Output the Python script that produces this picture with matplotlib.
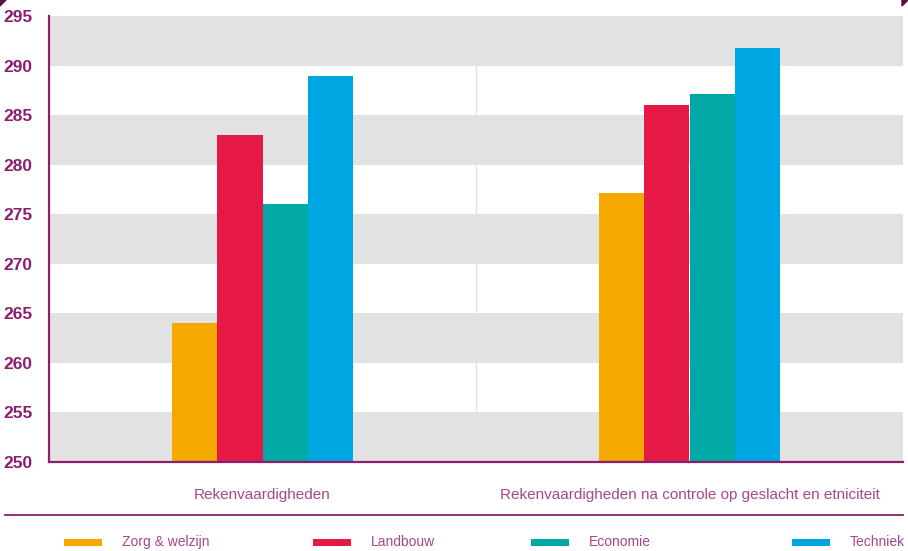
import matplotlib
matplotlib.use("Agg")
import matplotlib.pyplot as plt
from matplotlib.patches import Rectangle
from matplotlib.lines import Line2D
import numpy as np

categories = ["Rekenvaardigheden", "Rekenvaardigheden na controle op geslacht en etniciteit"]
series = ["Zorg & welzijn", "Landbouw", "Economie", "Techniek"]
values = {
    "Zorg & welzijn": [264.0, 277.1],
    "Landbouw": [283.0, 286.0],
    "Economie": [276.0, 287.1],
    "Techniek": [288.9, 291.8],
}
colors = ["#F5A800", "#E61946", "#00A9A6", "#00A6E2"]
yticks = [250, 255, 260, 265, 270, 275, 280, 285, 290, 295]

purple = "#8C1D6F"
label_purple = "#A8468A"

plt.rcParams["font.family"] = ["Liberation Sans", "DejaVu Sans"]

fig = plt.figure(figsize=(9.08, 5.51), dpi=100)
ax = fig.add_axes([49 / 908, 89 / 551, 854 / 908, 446 / 551])

# alternating grey bands
for k, lo in enumerate(yticks[:-1]):
    if k % 2 == 0:
        ax.axhspan(lo, lo + 5, color="#E2E2E2", zorder=0, lw=0)
ax.axvline(0.5, color="#E2E2E2", lw=1, zorder=0.5)

x = np.arange(len(categories))
w = 0.106
offset = -(len(series) - 1) * w / 2
for k, name in enumerate(series):
    ax.bar(x + offset, np.array(values[name]) - 250, bottom=250, width=w,
           color=colors[k], zorder=2, linewidth=0)
    offset += w

ax.set_xlim(-0.5, 1.5)
ax.set_ylim(250, 295)
ax.set_yticks(yticks)
ax.set_xticks(x)
ax.set_xticklabels(categories, fontsize=11, color=label_purple)
ax.tick_params(axis="x", length=0, pad=19)
ax.tick_params(axis="y", length=0, pad=12, labelsize=12.5, labelcolor=purple)
for lab in ax.get_yticklabels():
    lab.set_fontweight("bold")

for s in ["top", "right"]:
    ax.spines[s].set_visible(False)
for s in ["left", "bottom"]:
    ax.spines[s].set_color(purple)
    ax.spines[s].set_linewidth(1.6)
    ax.spines[s].set_zorder(3)

# separator line above legend
fig.add_artist(Line2D([5 / 908, 903 / 908], [1 - 515 / 551, 1 - 515 / 551],
                      color=purple, lw=1.3))

# legend
leg_x = [64, 313, 531, 792]
ly = 1 - 542 / 551
for k, name in enumerate(series):
    fig.add_artist(Rectangle((leg_x[k] / 908, ly - 3.5 / 551), 38 / 908, 7 / 551,
                             color=colors[k], transform=fig.transFigure, lw=0))
    fig.text((leg_x[k] + 58) / 908, ly, name, fontsize=10, color=label_purple,
             va="center", ha="left")

# corner marks
fig.add_artist(plt.Polygon([[0, 1], [6 / 908, 1], [0, 1 - 6 / 551]],
                           closed=True, color="#5A1040", transform=fig.transFigure))
fig.add_artist(plt.Polygon([[902 / 908, 1], [908 / 908, 1], [902 / 908, 1 - 6 / 551]],
                           closed=True, color="#5A1040", transform=fig.transFigure))

fig.savefig("out.png", dpi=100)
